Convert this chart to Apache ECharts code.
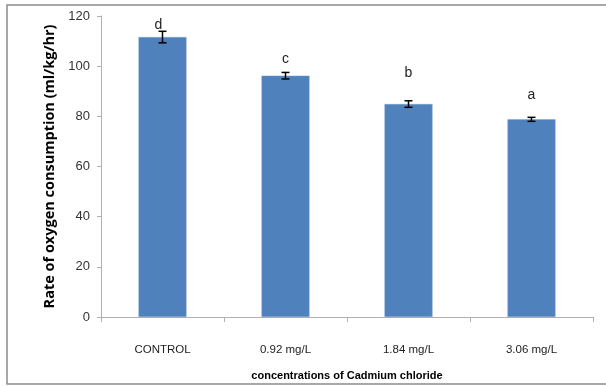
<!DOCTYPE html>
<html><head><meta charset="utf-8">
<script src="https://cdn.jsdelivr.net/npm/echarts@6/dist/echarts.min.js"></script>
<style>html,body{margin:0;padding:0;background:#fff}#c{width:606px;height:387px}</style>
</head><body><div id="c"></div>
<script>
const categories = ['CONTROL', '0.92 mg/L', '1.84 mg/L', '3.06 mg/L'];
const values = [111.6, 96.2, 84.9, 78.8];
const errors = [2.3, 1.3, 1.3, 0.8];
const letters = ['d', 'c', 'b', 'a'];
const letterY = [116.5, 102.9, 97.3, 88.5];
const yTicks = [0, 20, 40, 60, 80, 100, 120];

const chart = echarts.init(document.getElementById('c'));
const font = '"Liberation Sans",Arial,sans-serif';
chart.setOption({
  animation: false,
  graphic: [{
    type: 'rect', shape: {x: 7, y: 5, width: 620, height: 379},
    style: {fill: 'none', stroke: '#8c8c8c', lineWidth: 1.5}, z: -10
  }],
  grid: {left: 101, right: 13, top: 16, bottom: 70},
  xAxis: {
    type: 'category', data: categories,
    name: 'concentrations of Cadmium chloride', nameLocation: 'middle', nameGap: 53,
    nameTextStyle: {fontFamily: font, fontWeight: 'bold', fontSize: 11, color: '#000'},
    axisLine: {lineStyle: {color: '#b0b0b0'}},
    axisTick: {show: true, alignWithLabel: false, length: 5, lineStyle: {color: '#b0b0b0'}},
    axisLabel: {fontFamily: font, fontSize: 11.5, color: '#222', margin: 27}
  },
  yAxis: {
    type: 'value', min: 0, max: 120, interval: 20,
    name: 'Rate of oxygen consumption (ml/kg/hr)', nameLocation: 'middle', nameGap: 40,
    nameTextStyle: {fontFamily: '"Open Sans","Liberation Sans",sans-serif', fontWeight: 'bold', fontSize: 14.5, color: '#000'},
    axisLine: {show: true, lineStyle: {color: '#b0b0b0'}},
    axisTick: {show: true, length: 4, lineStyle: {color: '#b0b0b0'}},
    splitLine: {show: false},
    axisLabel: {fontFamily: font, fontSize: 13, color: '#333', margin: 11,
      formatter: v => yTicks.includes(v) ? String(v) : ''}
  },
  series: [{
    type: 'bar', data: values, barWidth: 48,
    itemStyle: {color: '#4f81bd', borderColor: '#7fa3d1', borderWidth: 0.5}
  }, {
    type: 'custom',
    data: values.map((v, i) => [i, v, errors[i]]),
    renderItem: (params, api) => {
      const x = api.value(0), v = api.value(1), e = api.value(2);
      const top = api.coord([x, v + e]), bot = api.coord([x, v - e]);
      const w = 4;
      const st = {stroke: '#000', lineWidth: 1.5};
      return {type: 'group', children: [
        {type: 'line', shape: {x1: top[0], y1: top[1], x2: bot[0], y2: bot[1]}, style: st},
        {type: 'line', shape: {x1: top[0] - w, y1: top[1], x2: top[0] + w, y2: top[1]}, style: st},
        {type: 'line', shape: {x1: bot[0] - w, y1: bot[1], x2: bot[0] + w, y2: bot[1]}, style: st}
      ]};
    }, z: 5
  }, {
    type: 'custom',
    data: letterY.map((v, i) => [i, v, letters[i]]),
    renderItem: (params, api) => {
      const p = api.coord([api.value(0), api.value(1)]);
      const dx = params.dataIndex === 0 ? -4 : 0;
      return {type: 'text', x: p[0] + dx, y: p[1],
        style: {text: letters[params.dataIndex], fontFamily: font, fontSize: 14, fill: '#222',
          align: 'center', verticalAlign: 'middle'}};
    }, z: 6
  }]
});
</script></body></html>
